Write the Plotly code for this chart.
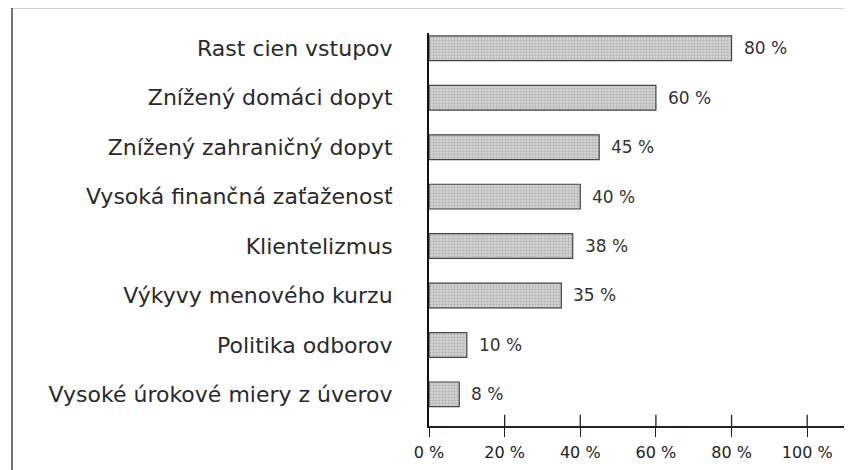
import plotly.graph_objects as go

categories = [
    "Rast cien vstupov",
    "Znížený domáci dopyt",
    "Znížený zahraničný dopyt",
    "Vysoká finančná zaťaženosť",
    "Klientelizmus",
    "Výkyvy menového kurzu",
    "Politika odborov",
    "Vysoké úrokové miery z úverov",
]
values = [80, 60, 45, 40, 38, 35, 10, 8]
value_labels = ["80 %", "60 %", "45 %", "40 %", "38 %", "35 %", "10 %", "8 %"]
tick_values = [0, 20, 40, 60, 80, 100]
tick_labels = ["0 %", "20 %", "40 %", "60 %", "80 %", "100 %"]

FONT = "DejaVu Sans, Verdana, sans-serif"

fig = go.Figure()
fig.add_trace(go.Bar(
    x=values,
    y=categories,
    orientation="h",
    width=0.5,
    marker=dict(
        color="#d2d2d2",
        line=dict(color="#444", width=1.2),
        pattern=dict(shape=".", fgcolor="#8a8a8a", size=3, solidity=0.35),
    ),
    hoverinfo="skip",
))

for cat, v, lab in zip(categories, values, value_labels):
    fig.add_annotation(
        x=v, y=cat, text=lab, showarrow=False,
        xanchor="left", yanchor="middle", xshift=10,
        font=dict(family=FONT, size=17, color="#333"),
    )

# upper half of the crossing ticks
for tv in tick_values[1:]:
    fig.add_shape(type="line", xref="x", yref="paper",
                  x0=tv, x1=tv, y0=0, y1=11 / 385,
                  line=dict(color="#222", width=1.3))

# outer frame
fig.add_shape(type="rect", xref="paper", yref="paper",
              x0=(12 - 429) / 416, x1=1.05, y0=-0.3, y1=1 + 25 / 385,
              line=dict(color="#444", width=1.5), fillcolor="rgba(0,0,0,0)",
              layer="below")

fig.update_layout(
    width=844, height=462,
    margin=dict(l=421, r=7, t=25, b=44),
    paper_bgcolor="white", plot_bgcolor="white",
    showlegend=False,
    font=dict(family=FONT, color="#222"),
    bargap=0.5,
    xaxis=dict(
        range=[0, 110],
        tickvals=tick_values, ticktext=tick_labels,
        ticks="outside", ticklen=9, tickwidth=1.3, tickcolor="#222",
        showline=True, linecolor="#222", linewidth=1.5,
        showgrid=False, zeroline=False,
        tickfont=dict(family=FONT, size=16, color="#222"),
        ticklabelstandoff=2,
    ),
    yaxis=dict(
        categoryorder="array", categoryarray=categories,
        range=[7.64, -0.31],
        showline=True, linecolor="#111", linewidth=2,
        ticks="", showgrid=False, zeroline=False,
        tickfont=dict(family=FONT, size=22, color="#2a2a2a"),
        ticklabelstandoff=30,
    ),
)

fig.write_html("out.html")
